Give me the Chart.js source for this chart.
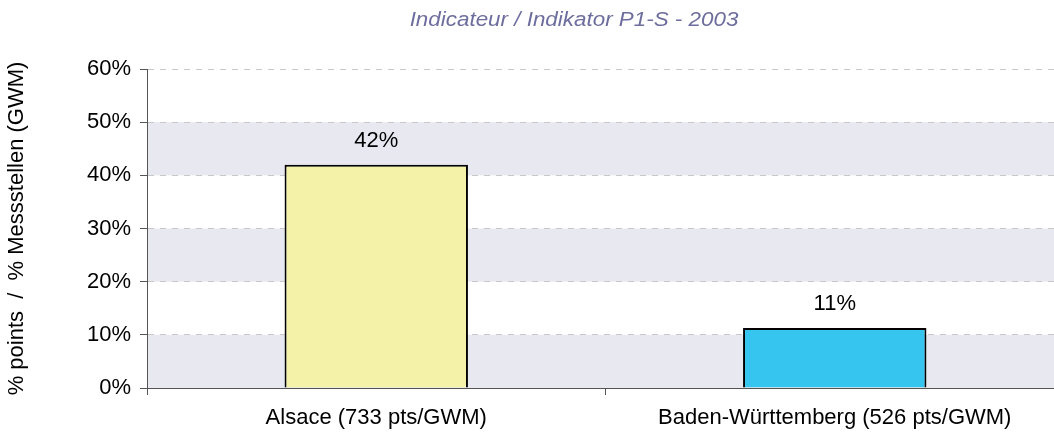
<!DOCTYPE html>
<html><head><meta charset="utf-8">
<script src="https://cdn.jsdelivr.net/npm/chart.js@4.4.1/dist/chart.umd.min.js"></script>
<style>html,body{margin:0;padding:0;overflow:hidden;background:#fff;width:1054px;height:432px}#wrap{width:1064px;height:432px}</style>
</head><body><div id="wrap"><canvas id="c" width="1064" height="432"></canvas></div>
<script>
const categories = ['Alsace (733 pts/GWM)', 'Baden-Württemberg (526 pts/GWM)'];
const values = [42, 11.3];
const barColors = ['#f4f2a8', '#36c5ef'];
const yTickValues = [0, 10, 20, 30, 40, 50, 60];
const chartTitle = 'Indicateur / Indikator P1-S - 2003';
const yTitle = '% points  /  % Messstellen (GWM)';
const FONT = '"Liberation Sans", Arial, sans-serif';

const bands = {
  id: 'bands',
  beforeDraw(chart) {
    const {ctx, chartArea: a, scales: {y}} = chart;
    ctx.save();
    ctx.fillStyle = '#e8e8f1';
    for (let v = 0; v < 60; v += 20) {
      const y1 = y.getPixelForValue(v), y2 = y.getPixelForValue(v + 10);
      ctx.fillRect(a.left, y2, a.right - a.left, y1 - y2);
    }
    ctx.restore();
  }
};
const labels = {
  id: 'labels',
  afterDatasetsDraw(chart) {
    const {ctx} = chart;
    const meta = chart.getDatasetMeta(0);
    ctx.save();
    ctx.font = '22px ' + FONT;
    ctx.fillStyle = '#000';
    ctx.textAlign = 'center';
    ctx.textBaseline = 'middle';
    meta.data.forEach((b, i) => ctx.fillText(Math.round(values[i]) + '%', b.x, b.y - 24));
    ctx.translate(574, 20);
    ctx.scale(1.12, 1);
    ctx.font = 'italic 20px ' + FONT;
    ctx.fillStyle = '#6e6e9e';
    ctx.fillText(chartTitle, 0, 0);
    ctx.restore();
  }
};

new Chart(document.getElementById('c'), {
  type: 'bar',
  data: {labels: categories, datasets: [{data: values, backgroundColor: barColors, borderColor: '#000', borderWidth: 2, barPercentage: 0.4, categoryPercentage: 1}]},
  options: {
    responsive: false, animation: false,
    layout: {padding: {top: 69, left: 0, right: 0, bottom: 0}},
    plugins: {legend: {display: false}, tooltip: {enabled: false}, title: {display: false}},
    scales: {
      x: {
        offset: true,
        grid: {offset: true, drawOnChartArea: false, drawTicks: true, tickLength: 7, color: '#555'},
        border: {color: '#555', width: 1},
        ticks: {color: '#000', font: {family: FONT, size: 22}, padding: 10, maxRotation: 0},
        afterFit: s => { s.height = 44; }
      },
      y: {
        min: 0, max: 60,
        afterBuildTicks: s => { s.ticks = yTickValues.map(v => ({value: v})); },
        grid: {color: '#c8c8c8', tickColor: '#555', tickLength: 7, tickBorderDash: [], tickWidth: 1},
        border: {color: '#555', width: 1, dash: [6, 6]},
        ticks: {color: '#000', font: {family: FONT, size: 22}, padding: 9, callback: v => v + '%'},
        title: {display: true, text: yTitle, color: '#000', font: {family: FONT, size: 22}, padding: {top: 4, bottom: 0}},
        afterFit: s => { s.width = 147; }
      }
    }
  },
  plugins: [bands, labels]
});
</script></body></html>
